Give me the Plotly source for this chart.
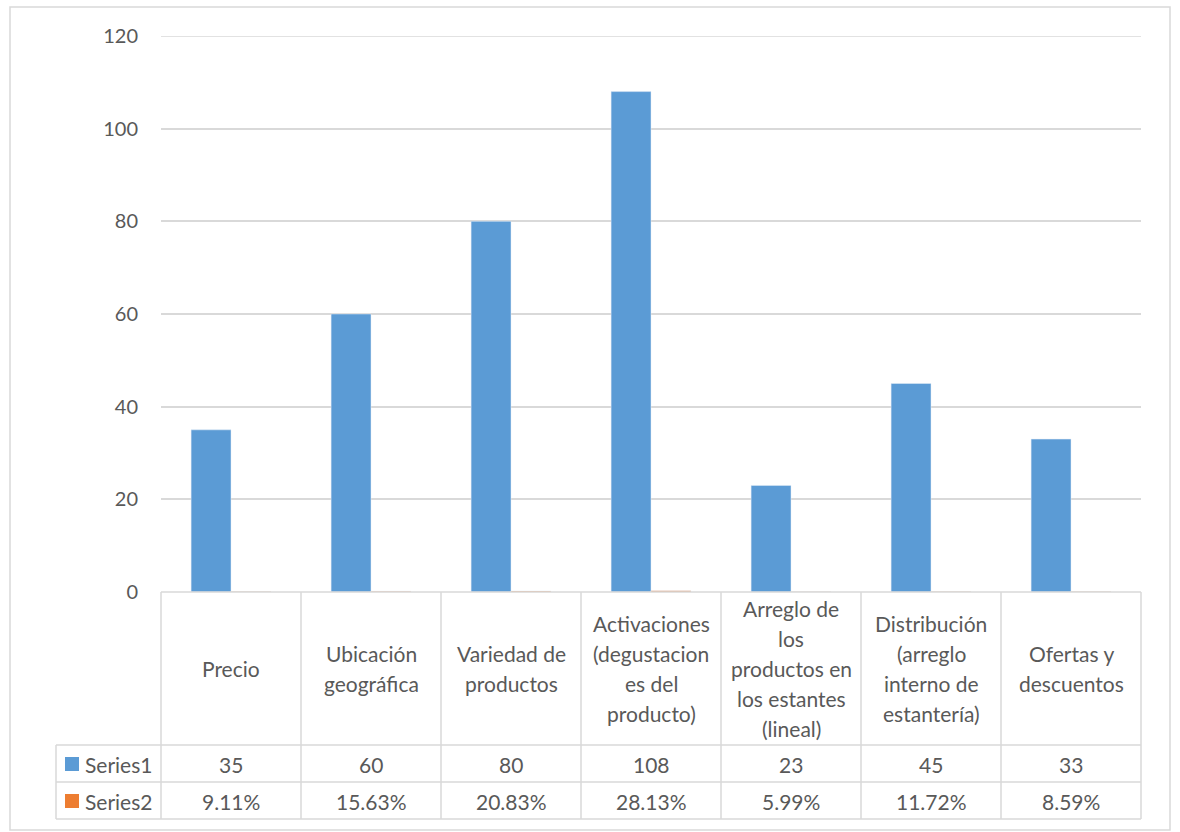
import plotly.graph_objects as go

categories = [
    "Precio",
    "Ubicación<br>geográfica",
    "Variedad de<br>productos",
    "Activaciones<br>(degustacion<br>es del<br>producto)",
    "Arreglo de<br>los<br>productos en<br>los estantes<br>(lineal)",
    "Distribución<br>(arreglo<br>interno de<br>estantería)",
    "Ofertas y<br>descuentos",
]
series1 = [35, 60, 80, 108, 23, 45, 33]
series2 = [0.0911, 0.1563, 0.2083, 0.2813, 0.0599, 0.1172, 0.0859]
series_names = ["Series1", "Series2"]
colors = ["#5B9BD5", "#ED7D31"]
y_ticks = [0, 20, 40, 60, 80, 100, 120]

W, H = 1180, 832
L, R, T, B = 161, 1141, 36, 592
PW, PH = R - L, B - T
FONT = "Lato"
TXT = "#595959"
GRID = "#d9d9d9"
FS = 21


def py(p):
    return (B - p) / PH


def px(p):
    return (p - L) / PW


xs = list(range(len(categories)))
fig = go.Figure()
fig.add_trace(go.Bar(x=xs, y=series1, name=series_names[0], marker_color=colors[0]))
fig.add_trace(go.Bar(x=xs, y=series2, name=series_names[1], marker_color=colors[1]))

shapes = []
ann = []
# outer chart border
shapes.append(dict(type="rect", xref="paper", yref="paper", x0=px(10), x1=px(1170),
                   y0=py(830), y1=py(7), line=dict(color=GRID, width=1.5)))
# top gridline (at the axis edge)
shapes.append(dict(type="line", xref="paper", yref="y", x0=0, x1=1, y0=y_ticks[-1], y1=y_ticks[-1],
                   line=dict(color=GRID, width=1.5), layer="below"))
# table lines
for yy, x0 in [(B, L), (745, 56), (782, 56), (819, 56)]:
    shapes.append(dict(type="line", xref="paper", yref="paper", x0=px(x0), x1=px(R),
                       y0=py(yy), y1=py(yy), line=dict(color=GRID, width=1.5)))
for k in range(len(categories) + 1):
    xx = L + k * PW / len(categories)
    shapes.append(dict(type="line", xref="paper", yref="paper", x0=px(xx), x1=px(xx),
                       y0=py(B), y1=py(819), line=dict(color=GRID, width=1.5)))
shapes.append(dict(type="line", xref="paper", yref="paper", x0=px(56), x1=px(56),
                   y0=py(745), y1=py(819), line=dict(color=GRID, width=1.5)))

# category labels (line by line)
LH = 30
for i, c in enumerate(categories):
    lines = c.split("<br>")
    n = len(lines)
    center = 668.5
    for j, ln in enumerate(lines):
        yc = center + (j - (n - 1) / 2) * LH
        ann.append(dict(x=i, xref="x", y=py(yc), yref="paper", text=ln, showarrow=False,
                        xanchor="center", yanchor="middle", font=dict(family=FONT, size=FS, color=TXT)))
    ann.append(dict(x=i, xref="x", y=py(764), yref="paper", text=str(series1[i]), showarrow=False,
                    xanchor="center", yanchor="middle", font=dict(family=FONT, size=FS, color=TXT)))
    ann.append(dict(x=i, xref="x", y=py(801), yref="paper", text=f"{series2[i]*100:.2f}%", showarrow=False,
                    xanchor="center", yanchor="middle", font=dict(family=FONT, size=FS, color=TXT)))

# legend keys in table
for k, (yy, name) in enumerate([(764, series_names[0]), (801, series_names[1])]):
    shapes.append(dict(type="rect", xref="paper", yref="paper", x0=px(65), x1=px(79),
                       y0=py(yy + 7), y1=py(yy - 7), line=dict(width=0), fillcolor=colors[k]))
    ann.append(dict(x=px(83), xref="paper", y=py(yy), yref="paper", text=name, showarrow=False,
                    xanchor="left", yanchor="middle", font=dict(family=FONT, size=FS, color=TXT)))

fig.update_layout(
    width=W, height=H,
    margin=dict(l=L, r=W - R, t=T, b=H - B, pad=0),
    paper_bgcolor="white", plot_bgcolor="white",
    barmode="group", bargap=0.43, bargroupgap=0,
    showlegend=False,
    shapes=shapes, annotations=ann,
    font=dict(family=FONT, size=20, color=TXT),
)
fig.update_xaxes(range=[-0.5, len(categories) - 0.5], showticklabels=False, showgrid=False,
                 zeroline=False, showline=False, ticks="")
fig.update_yaxes(range=[0, 120], tickvals=y_ticks, showgrid=True, gridcolor=GRID, gridwidth=1.5,
                 zeroline=False, showline=False, ticks="", ticklabelstandoff=22,
                 tickfont=dict(family=FONT, size=20, color=TXT))

fig.write_html("out.html")
